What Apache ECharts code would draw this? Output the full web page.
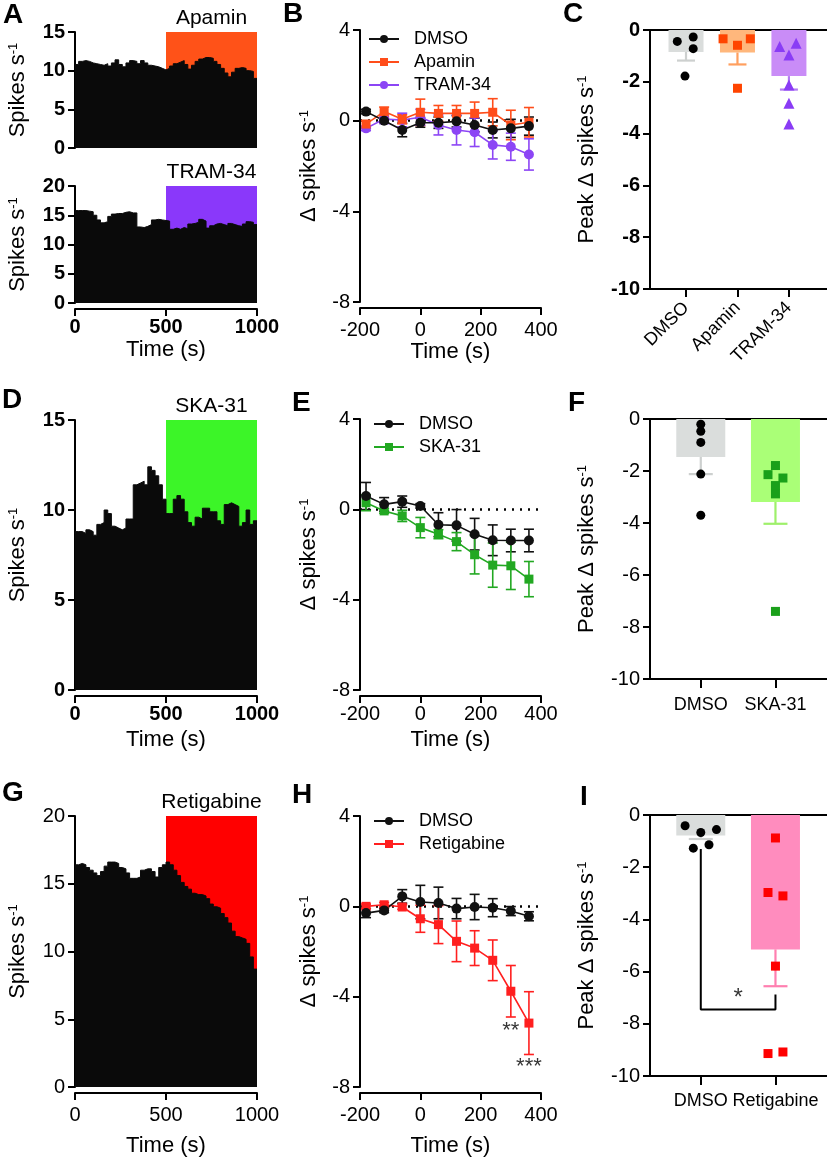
<!DOCTYPE html>
<html>
<head>
<meta charset="utf-8">
<script src="https://cdn.jsdelivr.net/npm/echarts@6/dist/echarts.min.js"></script>
<style>html,body{margin:0;padding:0;background:#fff}#c{width:827px;height:1161px}</style>
</head>
<body>
<div id="c"></div>
<script>
// ---------------- DATA ----------------
const timeBins = [0,20,40,60,80,100,120,140,160,180,200,220,240,260,280,300,320,340,360,380,400,420,440,460,480,500,520,540,560,580,600,620,640,660,680,700,720,740,760,780,800,820,840,860,880,900,920,940,960,980];
const traceApamin = [10.8,11.2,11.3,11.2,11.0,10.9,10.8,10.7,10.9,10.6,11.0,11.4,10.8,10.5,11.0,11.3,11.2,10.9,11.3,11.0,10.7,10.6,10.5,10.3,10.1,10.3,10.6,10.9,11.1,11.3,10.8,10.2,10.7,11.2,11.5,11.7,11.7,11.6,11.2,10.8,10.3,9.7,9.2,9.8,10.3,10.4,10.3,10.0,9.9,9.0];
const traceTram = [15.8,15.8,15.8,15.7,15.6,15.0,14.2,13.7,13.9,14.8,15.2,15.3,15.3,15.5,15.6,15.4,15.4,13.0,12.9,13.1,13.4,14.2,14.3,14.2,14.1,14.0,12.6,12.8,12.6,12.9,12.7,13.5,13.6,13.8,14.3,14.0,12.8,13.2,13.5,13.6,13.4,13.2,13.6,13.4,13.2,13.1,13.5,13.9,13.8,13.4];
const traceSka = [8.8,8.8,8.7,8.9,8.8,8.6,9.2,9.3,10.0,9.8,9.1,9.0,8.9,9.0,9.5,9.5,11.4,11.5,11.6,11.4,12.4,12.2,11.9,11.4,10.6,9.8,9.8,10.6,10.8,10.6,9.9,9.3,9.1,9.6,9.5,10.1,10.1,9.9,9.9,9.4,9.2,10.3,10.4,10.3,10.2,9.1,9.3,10.0,9.2,9.4];
const traceRetig = [16.4,16.5,16.4,16.2,16.0,15.8,15.6,15.9,16.3,16.6,16.6,16.5,16.2,16.1,15.8,15.4,15.4,15.5,16.0,16.1,16.1,15.9,15.5,16.2,16.4,16.6,16.4,16.0,15.6,15.1,14.8,14.6,14.3,14.2,14.2,14.1,13.9,13.5,13.3,13.2,12.8,12.5,12.1,11.5,11.1,11.0,10.9,10.6,9.6,8.7];

const times = [-180,-120,-60,0,60,120,180,240,300,360];
const B_dmso = [0.4,0.0,-0.41,-0.09,-0.09,-0.03,-0.19,-0.41,-0.34,-0.24];
const B_dmso_err = [0.1,0.1,0.3,0.2,0.25,0.25,0.3,0.35,0.4,0.4];
const B_apamin = [-0.15,0.4,0.06,0.37,0.32,0.32,0.32,0.37,-0.19,-0.07];
const B_apamin_err = [0.15,0.2,0.2,0.58,0.35,0.35,0.5,0.6,0.65,0.65];
const B_tram = [-0.34,0.07,0.03,0.15,-0.19,-0.41,-0.51,-1.07,-1.15,-1.49];
const B_tram_err = [0.1,0.2,0.3,0.35,0.44,0.66,0.63,0.62,0.6,0.69];

const E_dmso = [0.59,0.22,0.34,0.15,-0.68,-0.71,-1.1,-1.37,-1.38,-1.38];
const E_dmso_err = [0.6,0.3,0.25,0.1,0.53,0.7,0.7,0.68,0.5,0.5];
const E_ska = [0.29,-0.07,-0.29,-0.81,-1.1,-1.43,-2.01,-2.47,-2.5,-3.09];
const E_ska_err = [0.35,0.1,0.25,0.45,0.2,0.4,0.85,0.98,1.05,0.78];

const H_dmso = [-0.3,-0.18,0.44,0.19,0.15,-0.1,-0.03,-0.06,-0.21,-0.44];
const H_dmso_err = [0.2,0.1,0.3,0.74,0.7,0.45,0.56,0.4,0.2,0.2];
const H_retig = [0.0,0.07,-0.03,-0.55,-0.81,-1.55,-1.85,-2.39,-3.76,-5.17];
const H_retig_err = [0.1,0.1,0.1,0.6,0.84,0.9,0.77,0.9,1.14,1.39];
const sigH_x = [300, 360];
const sigH_y = [-5.31, -6.9];
const sigH_text = ['**', '***'];

const catsC = ['DMSO', 'Apamin', 'TRAM-34'];
const meanC = [-0.85, -0.87, -1.78];
const semC = [0.33, 0.46, 0.52];
const ptsC_dmso = [-0.44, -0.27, -0.72, -1.78];
const jitC_dmso = [-0.17, 0.14, 0.14, -0.02];
const ptsC_apamin = [-0.34, -0.59, -0.34, -2.25];
const jitC_apamin = [-0.28, 0, 0.25, 0];
const ptsC_tram = [-0.64, -0.51, -0.97, -2.12, -2.83, -3.63];
const jitC_tram = [-0.18, 0.14, 0, 0, 0, 0];

const catsF = ['DMSO', 'SKA-31'];
const meanF = [-1.46, -3.19];
const semF = [0.66, 0.84];
const ptsF_dmso = [-0.2, -0.47, -0.9, -2.12, -3.7];
const jitF_dmso = [0, 0, 0, 0, 0];
const ptsF_ska = [-1.79, -2.14, -2.27, -2.56, -2.88, -7.4];
const jitF_ska = [0, -0.1, 0.1, 0, 0, 0];

const catsI = ['DMSO', 'Retigabine'];
const meanI = [-0.79, -5.15];
const semI = [0.13, 1.41];
const ptsI_dmso = [-0.41, -0.67, -0.56, -1.27, -1.14];
const jitI_dmso = [-0.21, 0, 0.21, -0.1, 0.11];
const ptsI_retig = [-0.88, -2.97, -3.1, -5.79, -9.14, -9.08];
const jitI_retig = [0, -0.1, 0.1, 0, -0.1, 0.1];
const bracketI_x = [0, 0, 1, 1];
const bracketI_y = [-1.3, -7.45, -7.45, -6.88];
const sigI_x = [0.5];
const sigI_y = [-6.79];
const sigI_text = ['*'];

// ---------------- STYLE HELPERS ----------------
const FONT = 'Liberation Sans, Arial, Helvetica, sans-serif';
const BLK = '#0a0a0a';
const axLine = {show: true, onZero: false, lineStyle: {color: '#000', width: 2}};
const axTick = {show: true, length: 7, lineStyle: {color: '#000', width: 2}};

function grid(l, t, w, h) {
  return {left: l, top: t, width: w, height: h, containLabel: false, outerBoundsMode: 'none'};
}
function yAx(g, min, max, interval, bold, name, nameGap) {
  return {
    gridIndex: g, type: 'value', min, max, interval,
    name, nameLocation: 'middle', nameRotate: 90, nameGap,
    nameTextStyle: {fontFamily: FONT, fontSize: 22, color: '#000',
      rich: {sup: {fontFamily: FONT, fontSize: 13, color: '#000', verticalAlign: 'top', lineHeight: 13}}},
    axisLine: axLine, axisTick: axTick,
    axisLabel: {fontFamily: FONT, fontSize: 20, fontWeight: bold ? 'bold' : 'normal', color: '#000', margin: 10},
    splitLine: {show: false}
  };
}
function xAx(g, min, max, interval, bold, margin, name, nameGap, offset) {
  return {
    gridIndex: g, type: 'value', min, max, interval, position: 'bottom', offset: offset,
    name, nameLocation: 'middle', nameGap,
    nameTextStyle: {fontFamily: FONT, fontSize: 22, color: '#000'},
    axisLine: axLine, axisTick: axTick,
    axisLabel: {fontFamily: FONT, fontSize: 20, fontWeight: bold ? 'bold' : 'normal', color: '#000', margin,
      showMinLabel: true, showMaxLabel: true, formatter: v => String(v)},
    splitLine: {show: false}
  };
}
function catAx(g, min, max, cats, rotate, margin, tickLen) {
  const vals = cats.map((c, i) => i);
  return {
    gridIndex: g, type: 'value', min, max, position: 'bottom',
    axisLine: axLine,
    axisTick: {show: true, length: tickLen, lineStyle: {color: '#000', width: 2}, customValues: vals},
    axisLabel: {fontFamily: FONT, fontSize: 18, color: '#000', margin, rotate, customValues: vals,
      formatter: v => cats[Math.round(v)]},
    splitLine: {show: false}
  };
}
function topLine(g, min, max) {
  return {gridIndex: g, type: 'value', min, max, position: 'top',
    axisLine: {show: true, onZero: false, lineStyle: {color: '#000', width: 2}},
    axisTick: {show: false}, axisLabel: {show: false}, splitLine: {show: false}};
}
function hist(xi, yi, trace, ymax, shade, label) {
  const data = timeBins.map((t, i) => [t, trace[i]]);
  data.push([1000, trace[trace.length - 1]]);
  return {
    type: 'line', name: 'trace-' + label, xAxisIndex: xi, yAxisIndex: yi, data, step: 'end',
    symbol: 'none', lineStyle: {color: BLK, width: 1}, areaStyle: {color: BLK, opacity: 1}, z: 2, silent: true,
    markArea: {silent: true, z: 1, itemStyle: {color: shade, opacity: 1},
      label: {show: true, position: 'top', distance: 3, formatter: label, color: '#000', fontSize: 21, fontFamily: FONT},
      data: [[{xAxis: 500, yAxis: 0}, {xAxis: 1000, yAxis: ymax}]]}
  };
}
function lineS(name, xi, yi, vals, color, symbol, size, zeroLine) {
  const s = {
    type: 'line', name, xAxisIndex: xi, yAxisIndex: yi,
    data: times.map((t, i) => [t, vals[i]]),
    symbol, symbolSize: size, showSymbol: true,
    lineStyle: {color, width: 1.6}, itemStyle: {color, opacity: 1}, z: 4
  };
  if (zeroLine) {
    s.markLine = {silent: true, symbol: 'none', label: {show: false},
      lineStyle: {color: '#000', width: 2.5, type: [2, 6]}, data: [{yAxis: 0}], z: 1};
  }
  return s;
}
function errS(name, xi, yi, vals, errs, color, cap) {
  return {
    type: 'custom', name, xAxisIndex: xi, yAxisIndex: yi, z: 3, silent: true,
    data: times.map((t, i) => [t, vals[i], errs[i]]),
    renderItem: (p, api) => {
      const x = api.value(0), y = api.value(1), e = api.value(2);
      const a = api.coord([x, y + e]), b = api.coord([x, y - e]);
      const st = {stroke: color, lineWidth: 1.6};
      return {type: 'group', children: [
        {type: 'line', shape: {x1: a[0], y1: a[1], x2: b[0], y2: b[1]}, style: st},
        {type: 'line', shape: {x1: a[0] - cap, y1: a[1], x2: a[0] + cap, y2: a[1]}, style: st},
        {type: 'line', shape: {x1: b[0] - cap, y1: b[1], x2: b[0] + cap, y2: b[1]}, style: st}
      ]};
    }
  };
}
function barS(name, xi, yi, means, colors, width) {
  return {type: 'bar', name, xAxisIndex: xi, yAxisIndex: yi, barWidth: width, z: 1, silent: true,
    data: means.map((m, i) => ({value: [i, m], itemStyle: {color: colors[i]}}))};
}
function barErr(name, xi, yi, means, sems, colors, cap) {
  return {
    type: 'custom', name, xAxisIndex: xi, yAxisIndex: yi, z: 2, silent: true,
    data: means.map((m, i) => [i, m, sems[i]]),
    renderItem: (p, api) => {
      const x = api.value(0), m = api.value(1), s = api.value(2);
      const a = api.coord([x, m]), b = api.coord([x, m - s]);
      const st = {stroke: colors[p.dataIndex], lineWidth: 2.2};
      return {type: 'group', children: [
        {type: 'line', shape: {x1: a[0], y1: a[1], x2: b[0], y2: b[1]}, style: st},
        {type: 'line', shape: {x1: b[0] - cap, y1: b[1], x2: b[0] + cap, y2: b[1]}, style: st}
      ]};
    }
  };
}
function ptsS(name, xi, yi, cat, jit, vals, color, symbol, size) {
  return {type: 'scatter', name, xAxisIndex: xi, yAxisIndex: yi, z: 4, silent: true,
    symbol, symbolSize: size, itemStyle: {color, opacity: 1},
    data: vals.map((v, i) => [cat + jit[i], v])};
}
function textS(name, xi, yi, xs, ys, texts, fs, off) {
  return {type: 'scatter', name, xAxisIndex: xi, yAxisIndex: yi, z: 6, silent: true, symbolSize: 1,
    itemStyle: {color: 'rgba(0,0,0,0)'},
    data: xs.map((x, i) => ({value: [x, ys[i]], label: {formatter: texts[i]}})),
    label: {show: true, position: 'inside', color: '#000', fontFamily: FONT, fontSize: fs, offset: off}};
}
function letter(t, l, top) {
  return {text: t, left: l, top: top, padding: 0, textStyle: {fontFamily: FONT, fontSize: 28, fontWeight: 'bold', color: '#000'}};
}
function legend(l, t, names) {
  return {left: l, top: t, orient: 'vertical', itemWidth: 30, itemHeight: 10, itemGap: 5, padding: 0,
    data: names, selectedMode: false,
    textStyle: {fontFamily: FONT, fontSize: 18, color: '#000', padding: [0, 0, 0, 10]}};
}

const SUP = ' s{sup|-1}';
const cDMSO = '#111111', cAp = '#ff4d1a', cTr = '#8c45f5', cSk = '#22a822', cRe = '#ff1f1f';

const option = {
  animation: false,
  backgroundColor: '#fff',
  title: [letter('A', 3, 1), letter('B', 283, 0), letter('C', 563, 0),
          letter('D', 2, 386), letter('E', 292, 389), letter('F', 568, 389),
          letter('G', 2, 779), letter('H', 292, 781), letter('I', 580, 783)],
  legend: [legend(368, 30, ['DMSO', 'Apamin', 'TRAM-34']),
           legend(373, 415, ['DMSO', 'SKA-31']),
           legend(373, 812, ['DMSO', 'Retigabine'])],
  grid: [grid(75, 32, 182, 116), grid(75, 186, 182, 117), grid(360, 30, 181, 272), grid(650, 30, 177, 259),
         grid(75, 420, 182, 270), grid(360, 419, 181, 271), grid(650, 419, 177, 260),
         grid(75, 816, 182, 271), grid(360, 816, 181, 271), grid(650, 815, 177, 261)],
  xAxis: [
    Object.assign(xAx(0, 0, 1000, 500, true, 8, '', 0, 6), {show: false}),
    xAx(1, 0, 1000, 500, true, 8, 'Time (s)', 30, 6),
    xAx(2, -200, 400, 200, false, 12, 'Time (s)', 32, 6),
    catAx(3, -0.7, 2.74, catsC, 45, 16, 8),
    topLine(3, -0.7, 2.74),
    xAx(4, 0, 1000, 500, true, 8, 'Time (s)', 33, 6),
    xAx(5, -200, 400, 200, false, 8, 'Time (s)', 33, 6),
    catAx(6, -0.68, 1.69, catsF, 0, 17, 9),
    topLine(6, -0.68, 1.69),
    xAx(7, 0, 1000, 500, false, 12, 'Time (s)', 42, 6),
    xAx(8, -200, 400, 200, false, 12, 'Time (s)', 42, 6),
    catAx(9, -0.68, 1.69, catsI, 0, 16, 9),
    topLine(9, -0.68, 1.69)
  ],
  yAxis: [
    yAx(0, 0, 15, 5, true, 'Spikes' + SUP, 46),
    yAx(1, 0, 20, 5, true, 'Spikes' + SUP, 46),
    yAx(2, -8, 4, 4, false, '\u0394 spikes' + SUP, 40),
    yAx(3, -10, 0, 2, true, 'Peak \u0394 spikes' + SUP, 52),
    yAx(4, 0, 15, 5, true, 'Spikes' + SUP, 46),
    yAx(5, -8, 4, 4, false, '\u0394 spikes' + SUP, 40),
    yAx(6, -10, 0, 2, false, 'Peak \u0394 spikes' + SUP, 52),
    yAx(7, 0, 20, 5, false, 'Spikes' + SUP, 46),
    yAx(8, -8, 4, 4, false, '\u0394 spikes' + SUP, 40),
    yAx(9, -10, 0, 2, false, 'Peak \u0394 spikes' + SUP, 52)
  ],
  series: [
    hist(0, 0, traceApamin, 15, '#ff5218', 'Apamin'),
    hist(1, 1, traceTram, 20, '#8a38fa', 'TRAM-34'),
    hist(5, 4, traceSka, 15, '#3cf528', 'SKA-31'),
    hist(9, 7, traceRetig, 20, '#ff0000', 'Retigabine'),

    errS('eB1', 2, 2, B_dmso, B_dmso_err, cDMSO, 5),
    errS('eB2', 2, 2, B_apamin, B_apamin_err, cAp, 5),
    errS('eB3', 2, 2, B_tram, B_tram_err, cTr, 5),
    lineS('TRAM-34', 2, 2, B_tram, cTr, 'circle', 10, false),
    lineS('Apamin', 2, 2, B_apamin, cAp, 'rect', 9, false),
    lineS('DMSO', 2, 2, B_dmso, cDMSO, 'circle', 10, true),

    errS('eE1', 6, 5, E_dmso, E_dmso_err, cDMSO, 5),
    errS('eE2', 6, 5, E_ska, E_ska_err, cSk, 5),
    lineS('SKA-31', 6, 5, E_ska, cSk, 'rect', 9, false),
    lineS('DMSO', 6, 5, E_dmso, cDMSO, 'circle', 10, true),

    errS('eH1', 10, 8, H_dmso, H_dmso_err, cDMSO, 5),
    errS('eH2', 10, 8, H_retig, H_retig_err, cRe, 5),
    lineS('Retigabine', 10, 8, H_retig, cRe, 'rect', 9, false),
    lineS('DMSO', 10, 8, H_dmso, cDMSO, 'circle', 10, true),
    textS('sigH', 10, 8, sigH_x, sigH_y, sigH_text, 22, [0, 5]),

    barS('barC', 3, 3, meanC, ['#dadddc', '#ffb77c', '#c98cf7'], 35),
    barErr('errC', 3, 3, meanC, semC, ['#cdd0cf', '#ff9f5e', '#b27af2'], 9),
    ptsS('pC1', 3, 3, 0, jitC_dmso, ptsC_dmso, '#000', 'circle', 9),
    ptsS('pC2', 3, 3, 1, jitC_apamin, ptsC_apamin, '#ff4400', 'rect', 9),
    ptsS('pC3', 3, 3, 2, jitC_tram, ptsC_tram, '#8a3cf5', 'triangle', 11),

    barS('barF', 7, 6, meanF, ['#dadddc', '#aaff77'], 49),
    barErr('errF', 7, 6, meanF, semF, ['#cdd0cf', '#9ef06a'], 12),
    ptsS('pF1', 7, 6, 0, jitF_dmso, ptsF_dmso, '#000', 'circle', 9),
    ptsS('pF2', 7, 6, 1, jitF_ska, ptsF_ska, '#1aa01a', 'rect', 9),

    barS('barI', 11, 9, meanI, ['#dadddc', '#ff8cbe'], 49),
    barErr('errI', 11, 9, meanI, semI, ['#cdd0cf', '#ff7fb0'], 12),
    {type: 'line', name: 'bracketI', xAxisIndex: 11, yAxisIndex: 9, z: 3, silent: true, symbol: 'none',
      lineStyle: {color: '#000', width: 2}, data: bracketI_x.map((x, i) => [x, bracketI_y[i]])},
    ptsS('pI1', 11, 9, 0, jitI_dmso, ptsI_dmso, '#000', 'circle', 9),
    ptsS('pI2', 11, 9, 1, jitI_retig, ptsI_retig, '#ff0000', 'rect', 9),
    textS('sigI', 11, 9, sigI_x, sigI_y, sigI_text, 24, [0, 6])
  ]
};

const chart = echarts.init(document.getElementById('c'), null, {renderer: 'canvas'});
chart.setOption(option);
</script>
</body>
</html>
